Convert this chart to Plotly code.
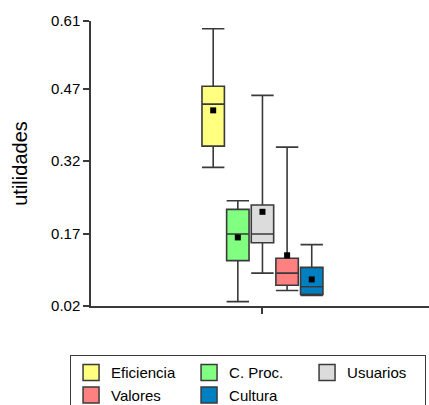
import plotly.graph_objects as go

series = ["Eficiencia", "C. Proc.", "Usuarios", "Valores", "Cultura"]
upper = [0.594, 0.238, 0.456, 0.349, 0.147]
q3 = [0.475, 0.220, 0.229, 0.119, 0.100]
median = [0.438, 0.169, 0.169, 0.088, 0.060]
q1 = [0.351, 0.114, 0.151, 0.063, 0.044]
lower = [0.307, 0.029, 0.088, 0.052, 0.042]
means = [0.425, 0.162, 0.215, 0.125, 0.075]
colors = ["#FFFF80", "#80FF80", "#DCDCDC", "#FF8080", "#0080C0"]
ytick_vals = [0.02, 0.17, 0.32, 0.47, 0.61]
ytick_text = ["0.02", "0.17", "0.32", "0.47", "0.61"]

LINE = "#3a3a3a"
FONT = "Liberation Sans, Arial, sans-serif"

fig = go.Figure()
for i, name in enumerate(series):
    fig.add_trace(go.Box(
        x=[name], q1=[q1[i]], median=[median[i]], q3=[q3[i]],
        lowerfence=[lower[i]], upperfence=[upper[i]],
        fillcolor=colors[i], line=dict(color=LINE, width=1.6),
        whiskerwidth=1, showlegend=False, name=name, hoverinfo="skip",
    ))
# mean markers
fig.add_trace(go.Scatter(
    x=series, y=means, mode="markers",
    marker=dict(symbol="square", size=6, color="black"),
    showlegend=False, hoverinfo="skip", cliponaxis=False,
))
# legend swatches
for i, name in enumerate(series):
    fig.add_trace(go.Scatter(
        x=[None], y=[None], mode="markers", name=name,
        marker=dict(symbol="square", size=16, color=colors[i],
                    line=dict(color=LINE, width=1.5)),
    ))

fig.update_layout(
    width=429, height=405,
    margin=dict(l=91, r=0, t=21, b=99, autoexpand=False),
    paper_bgcolor="white", plot_bgcolor="white",
    boxmode="overlay", boxgap=0.09, boxgroupgap=0,
    font=dict(family=FONT, size=15, color="black"),
    showlegend=True,
    legend=dict(
        orientation="h", x=-0.062, xanchor="left", y=-0.173, yanchor="top",
        bordercolor=LINE, borderwidth=1, bgcolor="white",
        entrywidth=73, entrywidthmode="pixels",
        font=dict(family=FONT, size=15, color="black"),
        traceorder="normal",
    ),
    xaxis=dict(
        type="category", categoryorder="array", categoryarray=series,
        range=[-4.96, 8.76], showgrid=False, zeroline=False,
        showline=True, linecolor=LINE, linewidth=1.5,
        tickvals=["Usuarios"], ticktext=[""], ticks="outside", ticklen=6,
        tickcolor=LINE, tickwidth=1.5,
    ),
    yaxis=dict(
        range=[0.02, 0.61], showgrid=False, zeroline=False,
        showline=True, linecolor=LINE, linewidth=1.5,
        tickvals=ytick_vals, ticktext=ytick_text, ticks="outside", ticklen=6,
        tickcolor=LINE, tickwidth=1.5,
        tickfont=dict(family=FONT, size=15, color="black"),
        title=dict(text="utilidades", font=dict(family=FONT, size=20, color="black"), standoff=18),
    ),
)

fig.write_html(
    "out.html",
    config={"displayModeBar": False},
    post_script="document.body.style.margin='0';document.body.style.overflow='hidden';",
)
